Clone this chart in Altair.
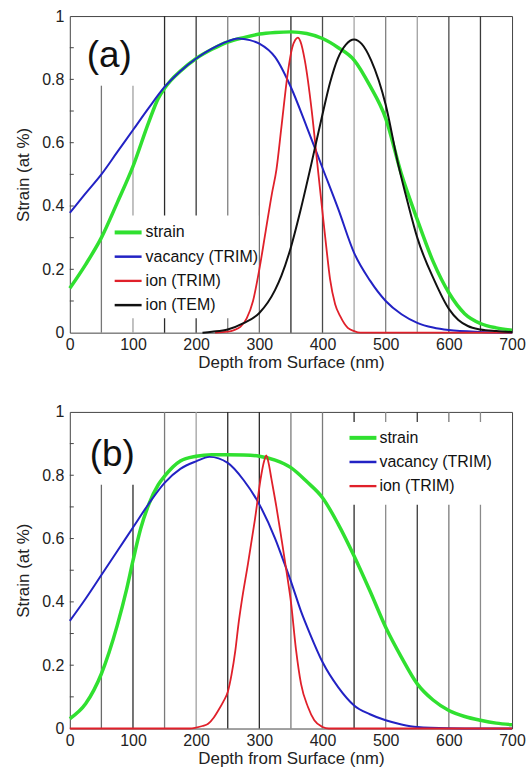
import altair as alt
import pandas as pd

SERIES = ["strain", "vacancy (TRIM)", "ion (TRIM)", "ion (TEM)"]

# ---------------- panel (a) ----------------
a_strain_x = [0, 25, 50, 75, 100, 125, 140, 150, 160, 175, 200, 225, 250, 275, 300, 325, 350,
              375, 400, 425, 450, 475, 500, 525, 550, 575, 600, 625, 650, 675, 700]
a_strain_y = [0.14, 0.215, 0.30, 0.41, 0.525, 0.665, 0.74, 0.772, 0.797, 0.826, 0.866, 0.895,
              0.918, 0.932, 0.943, 0.948, 0.95, 0.945, 0.929, 0.90, 0.861, 0.78, 0.677, 0.50,
              0.357, 0.225, 0.126, 0.06, 0.029, 0.015, 0.008]

a_vac_x = [0, 25, 50, 75, 100, 125, 150, 175, 200, 225, 250, 266, 285, 300, 325, 350, 375, 400,
           425, 450, 475, 500, 525, 550, 575, 600, 650, 700]
a_vac_y = [0.378, 0.44, 0.50, 0.57, 0.64, 0.71, 0.776, 0.826, 0.866, 0.897, 0.92, 0.929, 0.924,
           0.913, 0.87, 0.775, 0.65, 0.52, 0.39, 0.252, 0.165, 0.10, 0.058, 0.031, 0.016, 0.008,
           0.002, 0.0]

a_ion_x = [230, 250, 260, 270, 280, 290, 300, 310, 320, 327, 335, 345, 352, 357, 361, 365, 372,
           383, 392, 400, 406, 412, 420, 428, 440, 450, 460, 500, 600, 700]
a_ion_y = [0, 0.003, 0.008, 0.018, 0.045, 0.1, 0.2, 0.32, 0.44, 0.514, 0.65, 0.82, 0.9, 0.925,
           0.932, 0.92, 0.86, 0.70, 0.53, 0.38, 0.27, 0.168, 0.09, 0.052, 0.015, 0.005, 0, 0, 0, 0]

a_tem_x = [210, 225, 250, 275, 300, 325, 335, 350, 365, 382, 400, 412, 424, 437, 450, 462, 477,
           500, 520, 535, 550, 577, 600, 615, 630, 650, 675, 700]
a_tem_y = [0, 0.003, 0.01, 0.03, 0.062, 0.135, 0.18, 0.27, 0.385, 0.53, 0.69, 0.79, 0.865, 0.91,
           0.926, 0.912, 0.86, 0.72, 0.53, 0.41, 0.30, 0.165, 0.075, 0.04, 0.021, 0.01, 0.005,
           0.002]

# ---------------- panel (b) ----------------
b_strain_x = [0, 25, 50, 75, 90, 100, 112, 125, 140, 150, 175, 200, 225, 250, 275, 300, 325, 350,
              375, 400, 425, 450, 475, 500, 525, 550, 575, 600, 625, 650, 675, 700]
b_strain_y = [0.031, 0.078, 0.173, 0.325, 0.44, 0.53, 0.63, 0.708, 0.77, 0.797, 0.845, 0.86, 0.865,
              0.865, 0.864, 0.86, 0.848, 0.824, 0.78, 0.729, 0.645, 0.545, 0.435, 0.32, 0.225, 0.141,
              0.09, 0.057, 0.038, 0.026, 0.017, 0.012]

b_vac_x = [0, 25, 50, 75, 100, 125, 150, 175, 200, 221, 250, 275, 300, 325, 340, 350, 366, 380,
           400, 425, 450, 475, 500, 525, 550, 600, 650, 700]
b_vac_y = [0.34, 0.41, 0.485, 0.56, 0.635, 0.71, 0.776, 0.82, 0.844, 0.858, 0.839, 0.785, 0.708,
           0.60, 0.52, 0.465, 0.37, 0.30, 0.21, 0.13, 0.073, 0.045, 0.026, 0.013, 0.005, 0.001, 0.0,
           0.0]

b_ion_x = [0, 100, 190, 200, 210, 219, 228, 235, 243, 250, 256, 262, 267, 272, 282, 293, 303, 307,
           311, 315, 319, 327, 335, 345, 350, 358, 366, 377, 387, 400, 410, 500, 600, 700]
b_ion_y = [0, 0, 0, 0.003, 0.008, 0.015, 0.035, 0.057, 0.085, 0.115, 0.17, 0.246, 0.33, 0.40, 0.52,
           0.66, 0.80, 0.84, 0.863, 0.835, 0.79, 0.70, 0.60, 0.47, 0.40, 0.25, 0.141, 0.068, 0.026,
           0.005, 0, 0, 0, 0]

# vertical marker lines
v_x = [50, 100, 150, 200, 250, 300, 350, 400, 450, 500, 550, 600, 650]
a_v_top = [0.78, 0.78, 1, 1, 1, 1, 1, 1, 1, 1, 1, 1, 1]
b_v_top = [0.77, 0.77, 1, 1, 1, 1, 1, 1, 1, 1, 1, 1, 1]

x_tick_values = [0, 100, 200, 300, 400, 500, 600, 700]
y_tick_values = [0, 0.2, 0.4, 0.6, 0.8, 1]
y_minor_ticks = [0.1, 0.2, 0.3, 0.4, 0.5, 0.6, 0.7, 0.8, 0.9]

# ---------------- styles ----------------
COLORS = {"strain": "#30e030", "vacancy (TRIM)": "#2222c4",
          "ion (TRIM)": "#e0202a", "ion (TEM)": "#111111"}
WIDTHS = {"strain": 3.5, "vacancy (TRIM)": 2.0, "ion (TRIM)": 1.8, "ion (TEM)": 2.0}
a_v_shade = ["#777777", "#a0a0a0", "#2a2a2a", "#383838", "#808080", "#6e6e6e", "#2a2a2a",
             "#4a4a4a", "#a5a5a5", "#808080", "#a0a0a0", "#4a4a4a", "#3a3a3a"]
b_v_shade = ["#6a6a6a", "#2a2a2a", "#7a7a7a", "#a0a0a0", "#2a2a2a", "#2a2a2a", "#7a7a7a",
             "#7a7a7a", "#2a2a2a", "#8a8a8a", "#3a3a3a", "#7a7a7a", "#8a8a8a"]

FONT = "Liberation Sans"
W, H = 443.5, 317.5

x_scale = alt.Scale(domain=[0, 700], nice=False, zero=False)
y_scale = alt.Scale(domain=[0, 1], nice=False)

x_axis = alt.Axis(values=x_tick_values, title="Depth from Surface (nm)", ticks=False,
                  grid=False, domain=False, labelFontSize=16, labelFont=FONT,
                  labelColor="#222222", labelPadding=4, labelFlush=False,
                  titleFontSize=17, titleFont=FONT, titleFontWeight="normal",
                  titleColor="#222222", titlePadding=2)
y_axis = alt.Axis(values=y_tick_values, format="~g", title="Strain (at %)", ticks=False,
                  grid=False, domain=False, labelFontSize=16, labelFont=FONT,
                  labelColor="#222222", labelPadding=6, labelFlush=False,
                  titleFontSize=17, titleFont=FONT, titleFontWeight="normal",
                  titleColor="#222222", titlePadding=9)


def X(field):
    return alt.X(field, type="quantitative", scale=x_scale, axis=x_axis)


def Y(field):
    return alt.Y(field, type="quantitative", scale=y_scale, axis=y_axis)


one = pd.DataFrame({"k": [0]})


def panel(curves, v_top, v_shade, label, label_xy, leg_box, leg_y0, leg_pitch,
          leg_sample_x, leg_text_x):
    layers = []
    # vertical marker lines
    vdf = pd.DataFrame({"depth": v_x, "base": [0] * len(v_x), "top": v_top, "shade": v_shade})
    layers.append(
        alt.Chart(vdf).mark_rule(strokeWidth=1.3).encode(
            x=X("depth"), y=Y("base"), y2="top:Q", color=alt.Color("shade:N", scale=None)
        )
    )
    # legend background (hides marker lines only)
    x0, x1, y0, y1 = leg_box
    layers.append(
        alt.Chart(one).mark_rect(fill="white").encode(
            x=alt.value(x0), x2=alt.value(x1), y=alt.value(y0), y2=alt.value(y1)
        )
    )
    # curves
    for name, (xs, ys) in curves.items():
        df = pd.DataFrame({"depth": xs, "value": ys})
        layers.append(
            alt.Chart(df).mark_line(interpolate="monotone", color=COLORS[name],
                                    strokeWidth=WIDTHS[name]).encode(x=X("depth"), y=Y("value"))
        )
    # inward minor ticks on the left axis
    tdf = pd.DataFrame({"tick": y_minor_ticks})
    layers.append(
        alt.Chart(tdf).mark_rule(color="#444444", strokeWidth=1).encode(
            x=alt.value(0), x2=alt.value(4), y=Y("tick")
        )
    )
    # legend entries
    for i, name in enumerate(curves.keys()):
        ly = leg_y0 + i * leg_pitch
        layers.append(
            alt.Chart(one).mark_rule(color=COLORS[name], strokeWidth=WIDTHS[name] + 0.5).encode(
                x=alt.value(leg_sample_x[0]), x2=alt.value(leg_sample_x[1]), y=alt.value(ly)
            )
        )
        layers.append(
            alt.Chart(one).mark_text(align="left", baseline="middle", fontSize=16, font=FONT,
                                     color="#111111").encode(
                x=alt.value(leg_text_x), y=alt.value(ly), text=alt.value(name)
            )
        )
    # panel label
    layers.append(
        alt.Chart(one).mark_text(align="left", baseline="middle", fontSize=37, font=FONT,
                                 color="#111111").encode(
            x=alt.value(label_xy[0]), y=alt.value(label_xy[1]), text=alt.value(label)
        )
    )
    return alt.layer(*layers).properties(width=W, height=H)


top = panel(
    {SERIES[0]: (a_strain_x, a_strain_y), SERIES[1]: (a_vac_x, a_vac_y),
     SERIES[2]: (a_ion_x, a_ion_y), SERIES[3]: (a_tem_x, a_tem_y)},
    a_v_top, a_v_shade, "(a)", (17, 40), (37, 189, 200, 303), 217, 24.3, (45, 72), 76,
)
bottom = panel(
    {SERIES[0]: (b_strain_x, b_strain_y), SERIES[1]: (b_vac_x, b_vac_y),
     SERIES[2]: (b_ion_x, b_ion_y)},
    b_v_top, b_v_shade, "(b)", (20, 43), (276, 426, 10, 93), 26, 24.2, (280.5, 307.5), 310.5,
)

chart = (
    alt.vconcat(top, bottom, spacing=79, bounds="flush")
    .properties(padding={"left": 14, "top": 6, "right": 0, "bottom": 0})
    .configure(font=FONT)
    .configure_view(stroke="#444444", strokeWidth=1)
)

chart.save("out.html", embed_options={"renderer": "svg", "actions": False})
